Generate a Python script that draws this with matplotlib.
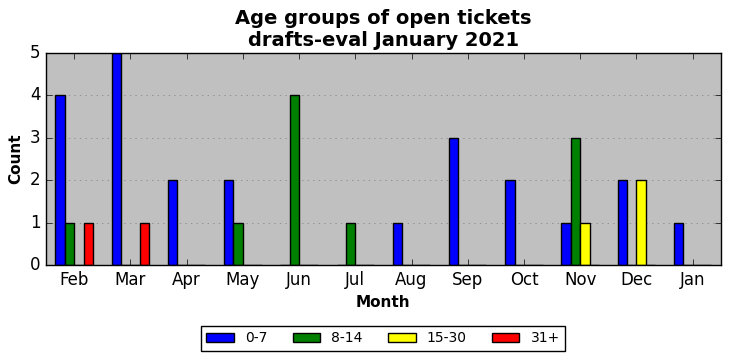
import matplotlib
matplotlib.use("Agg")
import matplotlib.pyplot as plt
import numpy as np

plt.style.use("classic")

months = ["Feb", "Mar", "Apr", "May", "Jun", "Jul", "Aug", "Sep", "Oct", "Nov", "Dec", "Jan"]
age_0_7 = [4, 5, 2, 2, 0, 0, 1, 3, 2, 1, 2, 1]
age_8_14 = [1, 0, 0, 1, 4, 1, 0, 0, 0, 3, 0, 0]
age_15_30 = [0, 0, 0, 0, 0, 0, 0, 0, 0, 1, 2, 0]
age_31p = [1, 1, 0, 0, 0, 0, 0, 0, 0, 0, 0, 0]

series = [("0-7", age_0_7, "blue"), ("8-14", age_8_14, "green"),
          ("15-30", age_15_30, "yellow"), ("31+", age_31p, "red")]

fig = plt.figure(figsize=(7.31, 3.61), dpi=100, facecolor="white")
ax = fig.add_axes([0.063, 0.266, 0.923, 0.587])
ax.set_facecolor("silver")

x = np.arange(len(months))
w = 1 / 6
handles = []
for i, (lab, vals, col) in enumerate(series):
    b = ax.bar(x + (i - 2) * w, vals, w, align="edge", color=col,
               edgecolor="black", linewidth=1, label=lab)
    handles.append(b)

ax.set_xlim(-0.5, len(months) - 0.5)
ax.set_ylim(0, 5)
ax.set_xticks(x)
ax.set_xticklabels(months)
ax.yaxis.grid(True, linestyle=":", color="gray")
ax.set_axisbelow(True)
ax.set_xlabel("Month", fontweight="bold", fontsize=11)
ax.set_ylabel("Count", fontweight="bold", fontsize=11)
ax.set_title("Age groups of open tickets\ndrafts-eval January 2021",
             fontweight="bold", fontsize=14)

fig.legend(handles=handles, loc="center", bbox_to_anchor=(0.524, 0.063),
           ncol=4, fontsize=10, frameon=True, fancybox=False,
           columnspacing=1.8)

fig.savefig("out.png", dpi=100, facecolor="white")
